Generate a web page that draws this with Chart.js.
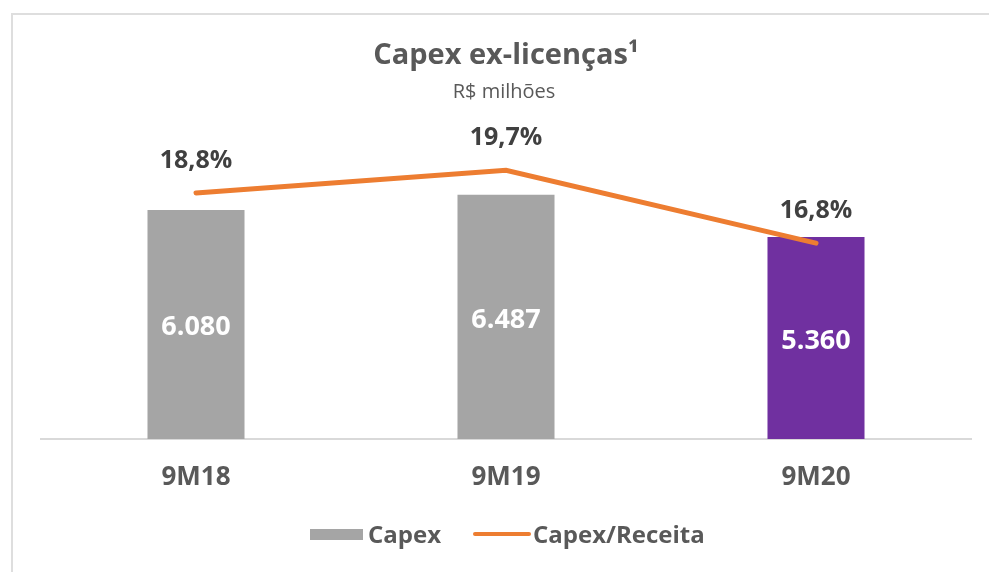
<!DOCTYPE html>
<html>
<head>
<meta charset="utf-8">
<script src="https://cdn.jsdelivr.net/npm/chart.js@4.4.0/dist/chart.umd.min.js"></script>
<style>
  html, body { margin: 0; padding: 0; background: #ffffff; }
  #wrap { width: 989px; height: 572px; position: relative; }
  canvas { display: block; }
</style>
</head>
<body>
<div id="wrap"><canvas id="c" width="989" height="572"></canvas></div>
<script>
const categories = ['9M18', '9M19', '9M20'];
const capexValues = [6080, 6487, 5360];
const capexRevenuePct = [18.8, 19.7, 16.8];
const seriesNames = ['Capex', 'Capex/Receita'];
const chartTitle = 'Capex ex-licenças¹';
const chartSubtitle = 'R$ milhões';

const FONT = '"Open Sans", "Noto Sans", sans-serif';
const GRAY = '#a5a5a5';
const PURPLE = '#7030a0';
const ORANGE = '#ed7d31';
const TEXT = '#595959';
const LABEL = '#404040';

function fmtThousands(v) {
  return String(Math.round(v)).replace(/\B(?=(\d{3})+(?!\d))/g, '.');
}
function fmtPct(v) {
  return v.toFixed(1).replace('.', ',') + '%';
}

const decorPlugin = {
  id: 'decor',
  beforeDraw(chart) {
    const ctx = chart.ctx;
    ctx.save();
    ctx.fillStyle = '#ffffff';
    ctx.fillRect(0, 0, chart.width, chart.height);
    ctx.strokeStyle = '#dedede';
    ctx.lineWidth = 2;
    ctx.beginPath();
    ctx.moveTo(12, chart.height);
    ctx.lineTo(12, 14);
    ctx.lineTo(chart.width, 14);
    ctx.stroke();
    ctx.restore();
  },
  afterDraw(chart) {
    const ctx = chart.ctx;
    ctx.save();
    // title & subtitle
    ctx.textAlign = 'center';
    ctx.textBaseline = 'middle';
    ctx.fillStyle = TEXT;
    ctx.font = 'bold 29px ' + FONT;
    ctx.fillText(chartTitle, 506, 56);
    ctx.font = '20px ' + FONT;
    ctx.fillText(chartSubtitle, 504, 92);

    // bar value labels
    const barMeta = chart.getDatasetMeta(1);
    ctx.font = 'bold 27px ' + FONT;
    ctx.fillStyle = '#ffffff';
    barMeta.data.forEach((bar, i) => {
      const cy = (bar.y + bar.base) / 2 + 3;
      ctx.fillText(fmtThousands(chart.data.datasets[1].data[i]), bar.x, cy);
    });

    // line value labels
    const lineMeta = chart.getDatasetMeta(0);
    ctx.font = 'bold 25px ' + FONT;
    ctx.fillStyle = LABEL;
    lineMeta.data.forEach((pt, i) => {
      ctx.fillText(fmtPct(chart.data.datasets[0].data[i]), pt.x, pt.y - 32);
    });

    // legend
    ctx.textAlign = 'left';
    ctx.font = 'bold 24px ' + FONT;
    ctx.fillStyle = GRAY;
    ctx.fillRect(310, 529, 53, 11);
    ctx.fillStyle = TEXT;
    ctx.fillText(chart.data.datasets[1].label, 368, 536);
    ctx.strokeStyle = ORANGE;
    ctx.lineWidth = 4;
    ctx.lineCap = 'round';
    ctx.beginPath();
    ctx.moveTo(475, 534);
    ctx.lineTo(529, 534);
    ctx.stroke();
    ctx.fillStyle = TEXT;
    ctx.fillText(chart.data.datasets[0].label, 533, 536);
    ctx.restore();
  }
};

new Chart(document.getElementById('c'), {
  type: 'bar',
  data: {
    labels: categories,
    datasets: [
      {
        type: 'line',
        label: seriesNames[1],
        data: capexRevenuePct,
        yAxisID: 'y1',
        borderColor: ORANGE,
        borderWidth: 5,
        borderCapStyle: 'round',
        pointRadius: 0,
        pointHoverRadius: 0,
        tension: 0,
        fill: false,
        order: 0
      },
      {
        type: 'bar',
        label: seriesNames[0],
        data: capexValues,
        yAxisID: 'y',
        backgroundColor: [GRAY, GRAY, PURPLE],
        borderWidth: 0,
        categoryPercentage: 1,
        barPercentage: 0.313,
        order: 1
      }
    ]
  },
  options: {
    responsive: false,
    animation: false,
    layout: { padding: { top: 100, left: 41, right: 18, bottom: 0 } },
    plugins: {
      legend: { display: false },
      title: { display: false },
      tooltip: { enabled: false }
    },
    scales: {
      x: {
        grid: { display: false, drawTicks: false },
        border: { display: true, color: '#d9d9d9', width: 2 },
        ticks: {
          color: TEXT,
          font: { family: FONT, size: 26, weight: 'bold' },
          padding: 23
        },
        afterFit(scale) { scale.height = 133; }
      },
      y: {
        display: false,
        min: 0,
        max: 9000
      },
      y1: {
        display: false,
        position: 'right',
        min: 9.0,
        max: 22.5
      }
    }
  },
  plugins: [decorPlugin]
});
</script>
</body>
</html>
